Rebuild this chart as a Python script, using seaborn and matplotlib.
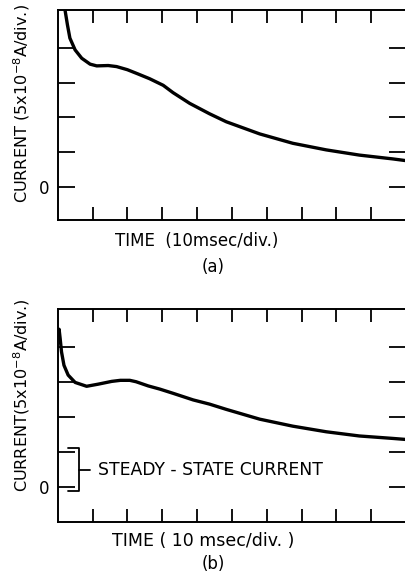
import numpy as np
import pandas as pd
import matplotlib
matplotlib.use("Agg")
import matplotlib.pyplot as plt
import seaborn as sns

# ---- data (x in divisions of 10 msec, y in divisions of 5e-8 A)
t_a = [0.17, 0.21, 0.28, 0.35, 0.50, 0.69, 0.93, 1.12, 1.45, 1.69, 2.00, 2.30, 2.64,
       3.03, 3.31, 3.79, 4.36, 4.84, 5.80, 6.75, 7.71, 8.66, 9.62, 10.0]
i_a = [5.60, 5.09, 4.66, 4.28, 3.94, 3.70, 3.53, 3.48, 3.49, 3.46, 3.37, 3.25, 3.11,
       2.92, 2.71, 2.40, 2.10, 1.87, 1.52, 1.25, 1.06, 0.91, 0.80, 0.75]

t_b = [0.0, 0.04, 0.07, 0.11, 0.18, 0.30, 0.50, 0.83, 1.16, 1.55, 1.80, 2.07, 2.25,
       2.60, 2.93, 3.31, 3.89, 4.36, 4.84, 5.80, 6.75, 7.71, 8.66, 9.62, 10.0]
i_b = [4.40, 4.52, 4.26, 3.87, 3.49, 3.21, 3.00, 2.89, 2.95, 3.03, 3.06, 3.06, 3.02,
       2.90, 2.81, 2.69, 2.50, 2.38, 2.23, 1.95, 1.75, 1.59, 1.47, 1.40, 1.37]

x_ticks = [1, 2, 3, 4, 5, 6, 7, 8, 9]
y_ticks = [0, 1, 2, 3, 4]
y_ticklabels = ["0", "", "", "", ""]

steady_low, steady_high = -0.1, 1.14

ylabel_a = "CURRENT (5x10$^{-8}$A/div.)"
ylabel_b = "CURRENT(5x10$^{-8}$A/div.)"
xlabel_a = "TIME  (10msec/div.)"
xlabel_b = "TIME ( 10 msec/div. )"
steady_text = "STEADY - STATE CURRENT"

sns.set_theme(style="ticks")
plt.rcParams['font.family'] = ['DejaVu Sans']
plt.rcParams['text.color'] = 'black'
plt.rcParams['ytick.labelcolor'] = 'black'

W, H = 406, 582
fig = plt.figure(figsize=(W / 100, H / 100), dpi=100)

def px_axes(left, top, right, bottom):
    return fig.add_axes([left / W, (H - bottom) / H, (right - left) / W, (bottom - top) / H])

ax_a = px_axes(57.7, 10, 406, 220)
ax_b = px_axes(57.7, 309.3, 406, 521.7)

df_a = pd.DataFrame({"t": t_a, "i": i_a})
df_b = pd.DataFrame({"t": t_b, "i": i_b})

for ax, df, ylim in [(ax_a, df_a, (-0.96, 5.09)), (ax_b, df_b, (-0.98, 5.09))]:
    sns.lineplot(data=df, x="t", y="i", color="black", linewidth=2.4, ax=ax,
                 sort=False, solid_capstyle="round", solid_joinstyle="round")
    ax.set_xlim(0, 10)
    ax.set_ylim(*ylim)
    ax.set_xlabel("")
    ax.set_ylabel("")
    ax.set_xticks(x_ticks)
    ax.set_xticklabels([])
    ax.set_yticks(y_ticks)
    ax.set_yticklabels(y_ticklabels, fontsize=12, color="black")
    ax.tick_params(axis="x", direction="in", top=True, bottom=True, length=9.5, width=1.3, color="black")
    ax.tick_params(axis="y", direction="in", left=True, right=True, length=12, width=1.3,
                   color="black", pad=6)
    for side in ["left", "top", "bottom"]:
        ax.spines[side].set_visible(True)
        ax.spines[side].set_linewidth(1.4)
        ax.spines[side].set_color("black")
    ax.spines["right"].set_visible(False)
    ax.set_facecolor("white")

# bracket for steady-state current in (b)
bx0, bx1, bx2 = 0.30, 0.61, 0.93
ax_b.plot([bx0, bx1, bx1, bx0], [steady_high, steady_high, steady_low, steady_low],
          color="black", linewidth=1.3)
ymid = (steady_high + steady_low) / 2 - 0.01
ax_b.plot([bx1, bx2], [ymid, ymid], color="black", linewidth=1.3)
ax_b.text(1.17, ymid, steady_text, fontsize=12.4, va="center", ha="left", color="black")

def ftext(x, y, s, **kw):
    fig.text(x / W, (H - y) / H, s, color="black", **kw)

ftext(22, 104, ylabel_a, rotation=90, ha="center", va="center", fontsize=11.6)
ftext(22, 395, ylabel_b, rotation=90, ha="center", va="center", fontsize=11.6)
ftext(197, 240.7, xlabel_a, ha="center", va="center", fontsize=12)
ftext(203, 540.7, xlabel_b, ha="center", va="center", fontsize=12.5)
ftext(213, 267, "(a)", ha="center", va="center", fontsize=12)
ftext(213, 564, "(b)", ha="center", va="center", fontsize=12)

fig.savefig("out.png", dpi=100, facecolor="white")
